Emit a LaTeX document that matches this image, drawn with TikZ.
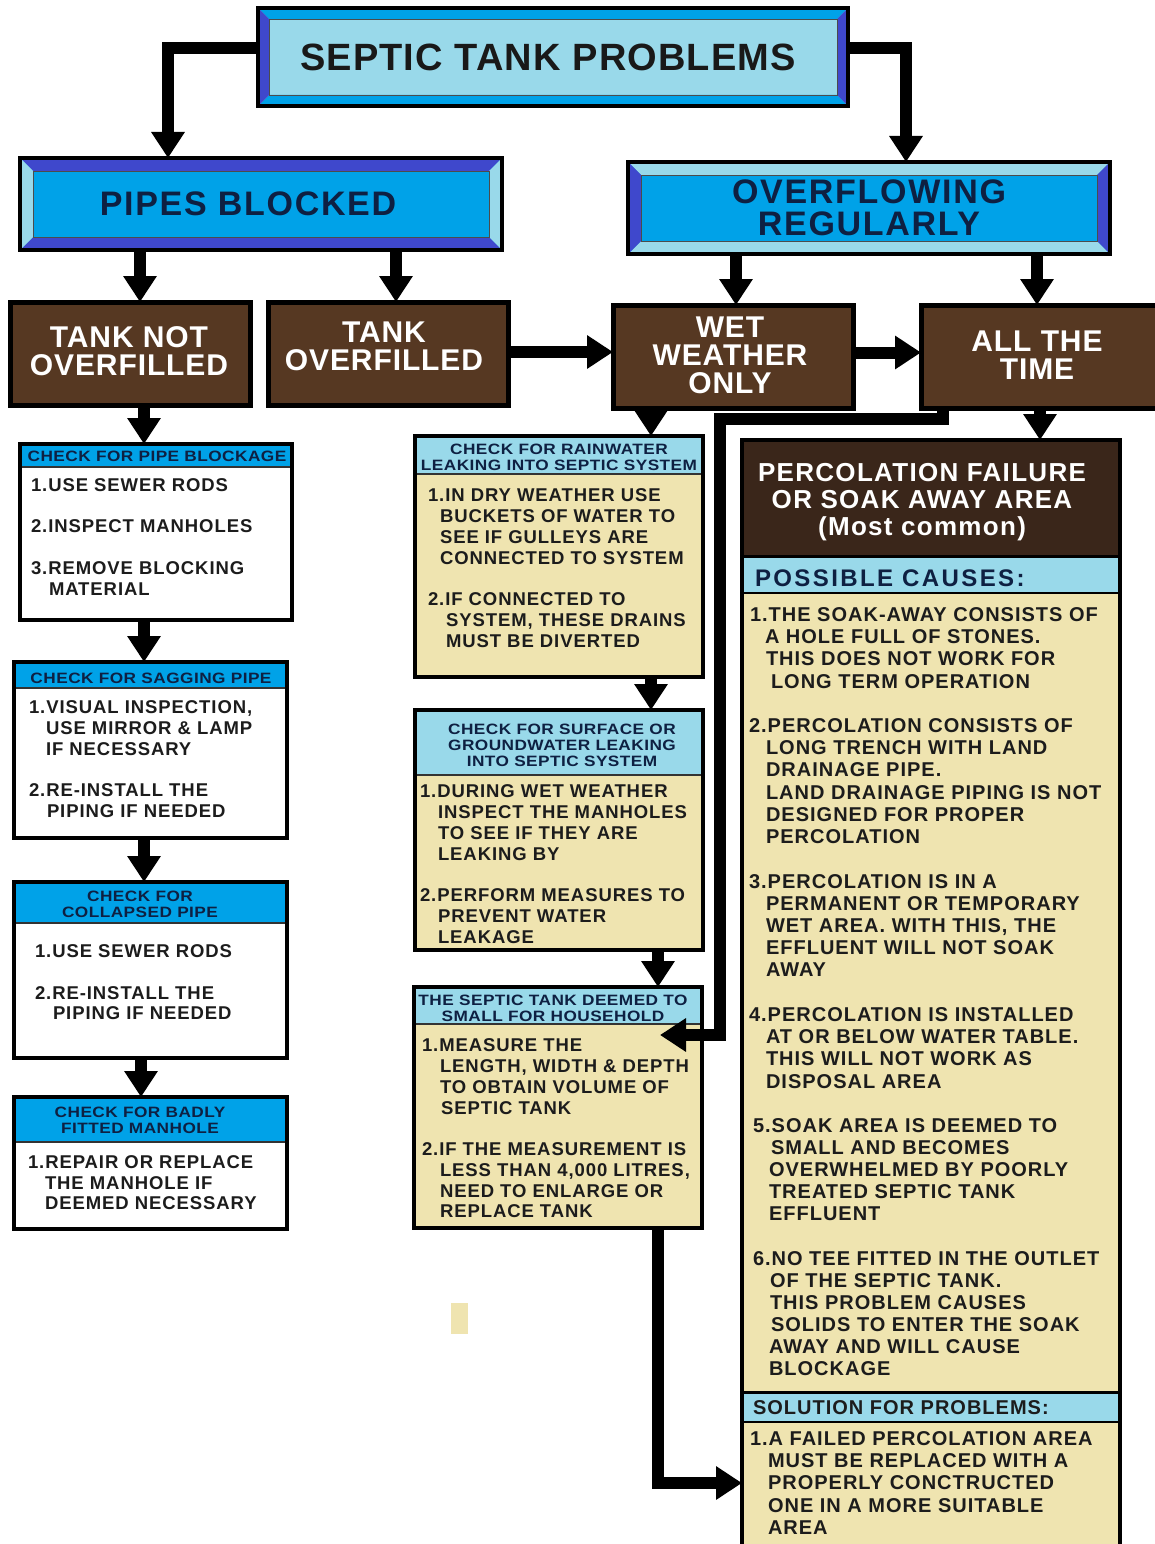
\documentclass[tikz,border=0pt]{standalone}
\usepackage{fontspec}
\setmainfont{Liberation Sans}
\newfontfamily\ftItem{Liberation Sans}[LetterSpace=5]
\newfontfamily\ftTitle{Liberation Sans}[LetterSpace=3]
\newfontfamily\ftHdr{Liberation Sans}[FakeStretch=1.15,LetterSpace=3]
\newfontfamily\ftWide{Liberation Sans}[LetterSpace=10]
\usetikzlibrary{arrows.meta}
\definecolor{brownc}{RGB}{86,56,34}
\definecolor{darkbrown}{RGB}{58,38,26}
\definecolor{lblue}{RGB}{153,217,234}
\definecolor{mblue}{RGB}{0,162,232}
\definecolor{indigo}{RGB}{63,72,204}
\definecolor{beige}{RGB}{239,228,176}
\definecolor{navy}{RGB}{14,32,66}
\definecolor{txt}{RGB}{28,28,28}
\tikzset{
  every node/.style={inner sep=0pt, outer sep=0pt},
  boxbase/.style={rectangle, inner sep=0pt, outer sep=0pt},
  arr/.style={line width=12pt, -{Triangle[length=26pt,width=32pt]}},
  bluebox/.style={boxbase, align=center, text=navy, font=\ftItem\bfseries\fontsize{34}{32}\selectfont},
  brownbox/.style={boxbase, fill=brownc, draw=black, line width=5pt, text=white, align=center, font=\ftTitle\bfseries\fontsize{30}{28}\selectfont},
  browntext/.style={align=center, text=white, font=\ftTitle\bfseries\fontsize{30}{28}\selectfont},
  item/.style={anchor=base west, font=\ftItem\bfseries\fontsize{18.5}{21}\selectfont, text=txt, yshift=-6.6pt},
  bitem/.style={anchor=base west, font=\ftItem\bfseries\fontsize{20}{22}\selectfont, text=txt, yshift=-7.2pt},
  hdr/.style={align=center, text=navy, font=\ftHdr\bfseries\fontsize{15}{16}\selectfont}
}
\newcommand\bevel[4]{%
  \fill[#3] (#1.north west) -- (#1.north east) -- ([shift={(-#2pt,-#2pt)}]#1.north east) -- ([shift={(#2pt,-#2pt)}]#1.north west) -- cycle;
  \fill[#3] (#1.south west) -- (#1.south east) -- ([shift={(-#2pt,#2pt)}]#1.south east) -- ([shift={(#2pt,#2pt)}]#1.south west) -- cycle;
  \fill[#4] (#1.north west) -- (#1.south west) -- ([shift={(#2pt,#2pt)}]#1.south west) -- ([shift={(#2pt,-#2pt)}]#1.north west) -- cycle;
  \fill[#4] (#1.north east) -- (#1.south east) -- ([shift={(-#2pt,#2pt)}]#1.south east) -- ([shift={(-#2pt,-#2pt)}]#1.north east) -- cycle;
  \draw[line width=0.8pt, black!70] ([shift={(#2pt,-#2pt)}]#1.north west) rectangle ([shift={(-#2pt,#2pt)}]#1.south east);
  \draw[line width=4pt] (#1.north west) rectangle (#1.south east);
}
\newcommand\cbox[7]{%
  \node[boxbase, fill=#7, minimum width=#3pt, minimum height=#4pt] (#1) at (#2) {};
  \fill[#6] (#1.north west) rectangle ([yshift=-#5pt]#1.north east);
  \draw[line width=1.2pt, black!80] ([yshift=-#5pt]#1.north west) -- ([yshift=-#5pt]#1.north east);
  \draw[line width=4pt] (#1.north west) rectangle (#1.south east);
}
\begin{document}
\begin{tikzpicture}[x=1pt,y=-1pt]
\useasboundingbox (0,0) rectangle (1154,1544);
\fill[white] (0,0) rectangle (1154,1544);

% ---------- top level
\node[bluebox, fill=lblue, minimum width=590pt, minimum height=98pt, text=black!90, font=\ftTitle\bfseries\fontsize{38}{40}\selectfont] (title) at (553,57) {SEPTIC TANK PROBLEMS\hspace*{10pt}};
\bevel{title}{11}{mblue}{indigo}

\node[bluebox, fill=mblue, minimum width=482pt, minimum height=92pt] (pipes) at (261,204) {PIPES BLOCKED\hspace*{26pt}};
\bevel{pipes}{13}{indigo}{lblue}

\node[bluebox, fill=mblue, minimum width=482pt, minimum height=92pt] (over) at (869,208) {OVERFLOWING\\REGULARLY};
\bevel{over}{13}{lblue}{indigo}

% ---------- brown boxes
\node[brownbox, minimum width=240pt, minimum height=103pt] (tno) at (130,353.5) {};
\node[browntext] (tnot) at (129,351) {TANK NOT\\OVERFILLED};
\node[brownbox, minimum width=240pt, minimum height=103pt] (tov) at (388,353.5) {};
\node[browntext] (tovt) at (384,346) {TANK\\OVERFILLED};
\node[brownbox, minimum width=240pt, minimum height=103pt] (wet) at (733,356.5) {};
\node[browntext] (wett) at (730,355) {WET\\WEATHER\\ONLY};
\node[brownbox, minimum width=260pt, minimum height=103pt] (all) at (1051,356.5) {};
\node[browntext] (allt) at (1037,355) {ALL THE\\TIME};

% ---------- left column
\cbox{b1}{156,532}{272}{176}{23}{mblue}{white}
\cbox{b2}{150.5,750}{273}{176}{26}{mblue}{white}
\cbox{b3}{150.5,970}{273}{176}{41}{mblue}{white}
\cbox{b4}{150.5,1163}{273}{132}{45}{mblue}{white}
\node[hdr] (b1h) at (157,456) {CHECK FOR PIPE BLOCKAGE};
\node[hdr] (b2h) at (151,678) {CHECK FOR SAGGING PIPE};
\node[hdr] (b3h) at (140,904) {CHECK FOR\\COLLAPSED PIPE};
\node[hdr] (b4h) at (140,1120) {CHECK FOR BADLY\\FITTED MANHOLE};
\foreach \x/\y/\t in {
31/485/{1.USE SEWER RODS},
31/526/{2.INSPECT MANHOLES},
31/568/{3.REMOVE BLOCKING},
49/589/{MATERIAL},
29/707/{1.VISUAL INSPECTION,},
46/728/{USE MIRROR \& LAMP},
46/749/{IF NECESSARY},
29/790/{2.RE-INSTALL THE},
47/811/{PIPING IF NEEDED},
35/951/{1.USE SEWER RODS},
35/993/{2.RE-INSTALL THE},
53/1013/{PIPING IF NEEDED},
28/1162/{1.REPAIR OR REPLACE},
45/1183/{THE MANHOLE IF},
45/1203/{DEEMED NECESSARY}}
  \node[item] (L\y) at (\x,\y) {\t};

% ---------- middle column
\cbox{m1}{559,556.5}{288}{241}{38}{lblue}{beige}
\cbox{m2}{559,830}{288}{240}{65}{lblue}{beige}
\cbox{m3}{558,1107.5}{288}{241}{37}{lblue}{beige}
\node[hdr] (m1h) at (559,457) {CHECK FOR RAINWATER\\LEAKING INTO SEPTIC SYSTEM};
\node[hdr] (m2h) at (562,745) {CHECK FOR SURFACE OR\\GROUNDWATER LEAKING\\INTO SEPTIC SYSTEM};
\node[hdr] (m3h) at (553,1008) {THE SEPTIC TANK DEEMED TO\\SMALL FOR HOUSEHOLD};
\foreach \x/\y/\t in {
428/495/{1.IN DRY WEATHER USE},
440/516/{BUCKETS OF WATER TO},
440/537/{SEE IF GULLEYS ARE},
440/558/{CONNECTED TO SYSTEM},
428/599/{2.IF CONNECTED TO},
446/620/{SYSTEM, THESE DRAINS},
446/641/{MUST BE DIVERTED},
420/791/{1.DURING WET WEATHER},
438/812/{INSPECT THE MANHOLES},
438/833/{TO SEE IF THEY ARE},
438/854/{LEAKING BY},
420/895/{2.PERFORM MEASURES TO},
438/916/{PREVENT WATER},
438/937/{LEAKAGE},
422/1045/{1.MEASURE THE},
440/1066/{LENGTH, WIDTH \& DEPTH},
440/1087/{TO OBTAIN VOLUME OF},
441/1108/{SEPTIC TANK},
422/1149/{2.IF THE MEASUREMENT IS},
440/1170/{LESS THAN 4,000 LITRES,},
440/1191/{NEED TO ENLARGE OR},
440/1211/{REPLACE TANK}}
  \node[item] (M\y) at (\x,\y) {\t};

\fill[beige] (451,1303) rectangle (468,1334);

% ---------- right column
\node[boxbase, fill=beige, minimum width=378pt, minimum height=1130pt] (perc) at (931,1005) {};
\fill[darkbrown] (perc.north west) rectangle ([yshift=-116pt]perc.north east);
\fill[lblue] ([yshift=-116pt]perc.north west) rectangle ([yshift=-153pt]perc.north east);
\fill[lblue] ([yshift=-952pt]perc.north west) rectangle ([yshift=-982pt]perc.north east);
\draw[line width=3pt] ([yshift=-116pt]perc.north west) -- ([yshift=-116pt]perc.north east);
\draw[line width=1.2pt] ([yshift=-153pt]perc.north west) -- ([yshift=-153pt]perc.north east);
\draw[line width=3pt] ([yshift=-952pt]perc.north west) -- ([yshift=-952pt]perc.north east);
\draw[line width=1.2pt] ([yshift=-982pt]perc.north west) -- ([yshift=-982pt]perc.north east);
\draw[line width=4pt] (perc.north west) rectangle (perc.south east);
\node[align=center, text=white, font=\ftItem\bfseries\fontsize{26}{27}\selectfont] (perch) at (922,502) {PERCOLATION FAILURE\\OR SOAK AWAY AREA\\(Most common)};
\node[anchor=base west, text=navy, font=\ftWide\bfseries\fontsize{24}{26}\selectfont, yshift=-8.6pt] (pc) at (755,578) {POSSIBLE CAUSES:};
\node[bitem] (sol) at (753,1407) {SOLUTION FOR PROBLEMS:};
\foreach \x/\y/\t in {
750/614/{1.THE SOAK-AWAY CONSISTS OF},
765/636/{A HOLE FULL OF STONES.},
766/658/{THIS DOES NOT WORK FOR},
771/681/{LONG TERM OPERATION},
749/725/{2.PERCOLATION CONSISTS OF},
766/747/{LONG TRENCH WITH LAND},
766/769/{DRAINAGE PIPE.},
766/792/{LAND DRAINAGE PIPING IS NOT},
766/814/{DESIGNED FOR PROPER},
766/836/{PERCOLATION},
749/881/{3.PERCOLATION IS IN A},
766/903/{PERMANENT OR TEMPORARY},
766/925/{WET AREA. WITH THIS, THE},
766/947/{EFFLUENT WILL NOT SOAK},
766/969/{AWAY},
749/1014/{4.PERCOLATION IS INSTALLED},
766/1036/{AT OR BELOW WATER TABLE.},
766/1058/{THIS WILL NOT WORK AS},
766/1081/{DISPOSAL AREA},
753/1125/{5.SOAK AREA IS DEEMED TO},
771/1147/{SMALL AND BECOMES},
769/1169/{OVERWHELMED BY POORLY},
769/1191/{TREATED SEPTIC TANK},
769/1213/{EFFLUENT},
753/1258/{6.NO TEE FITTED IN THE OUTLET},
770/1280/{OF THE SEPTIC TANK.},
770/1302/{THIS PROBLEM CAUSES},
771/1324/{SOLIDS TO ENTER THE SOAK},
769/1346/{AWAY AND WILL CAUSE},
769/1368/{BLOCKAGE},
750/1438/{1.A FAILED PERCOLATION AREA},
768/1460/{MUST BE REPLACED WITH A},
768/1482/{PROPERLY CONCTRUCTED},
768/1505/{ONE IN A MORE SUITABLE},
768/1527/{AREA}}
  \node[bitem] (R\y) at (\x,\y) {\t};

% ---------- connectors
\coordinate (j1) at (720,419);
\draw[arr] ([yshift=9pt]title.west) -| ([xshift=148pt]pipes.north west);
\draw[arr] ([yshift=9pt]title.east) -| ([xshift=278pt]over.north west);
\draw[arr] ([xshift=120pt]pipes.south west) -- ([xshift=130pt]tno.north west);
\draw[arr] ([xshift=376pt]pipes.south west) -- ([xshift=128pt]tov.north west);
\draw[arr] ([xshift=108pt]over.south west) -- ([xshift=123pt]wet.north west);
\draw[arr] ([xshift=409pt]over.south west) -- ([xshift=116pt]all.north west);
\draw[arr] ([yshift=1.5pt]tov.east) -- ([yshift=1.5pt]tov.east -| wet.west);
\draw[arr] ([yshift=4pt]wet.east) -- ([yshift=4pt]wet.east -| all.west);
\draw[arr] ([xshift=134pt]tno.south west) -- ([xshift=124pt]b1.north west);
\draw[arr] ([xshift=124pt]b1.south west) -- ([xshift=130pt]b2.north west);
\draw[arr] ([xshift=130pt]b2.south west) -- ([xshift=130pt]b3.north west);
\draw[arr] ([xshift=127pt]b3.south west) -- ([xshift=127pt]b4.north west);
\draw[arr] ([xshift=38pt]wet.south west) -- ([xshift=236pt]m1.north west);
\draw[arr] ([xshift=236pt]m1.south west) -- ([xshift=236pt]m2.north west);
\draw[arr] ([xshift=243pt]m2.south west) -- ([xshift=244pt]m3.north west);
\draw[arr] ([xshift=119pt]all.south west) -- ([xshift=298pt]perc.north west);
\draw[arr] ([xshift=22pt]all.south west) |- (j1) |- ([xshift=-42pt,yshift=72.5pt]m3.east);
\draw[arr] ([xshift=244pt]m3.south west) |- ([yshift=-478pt]perc.west);
\end{tikzpicture}
\end{document}
